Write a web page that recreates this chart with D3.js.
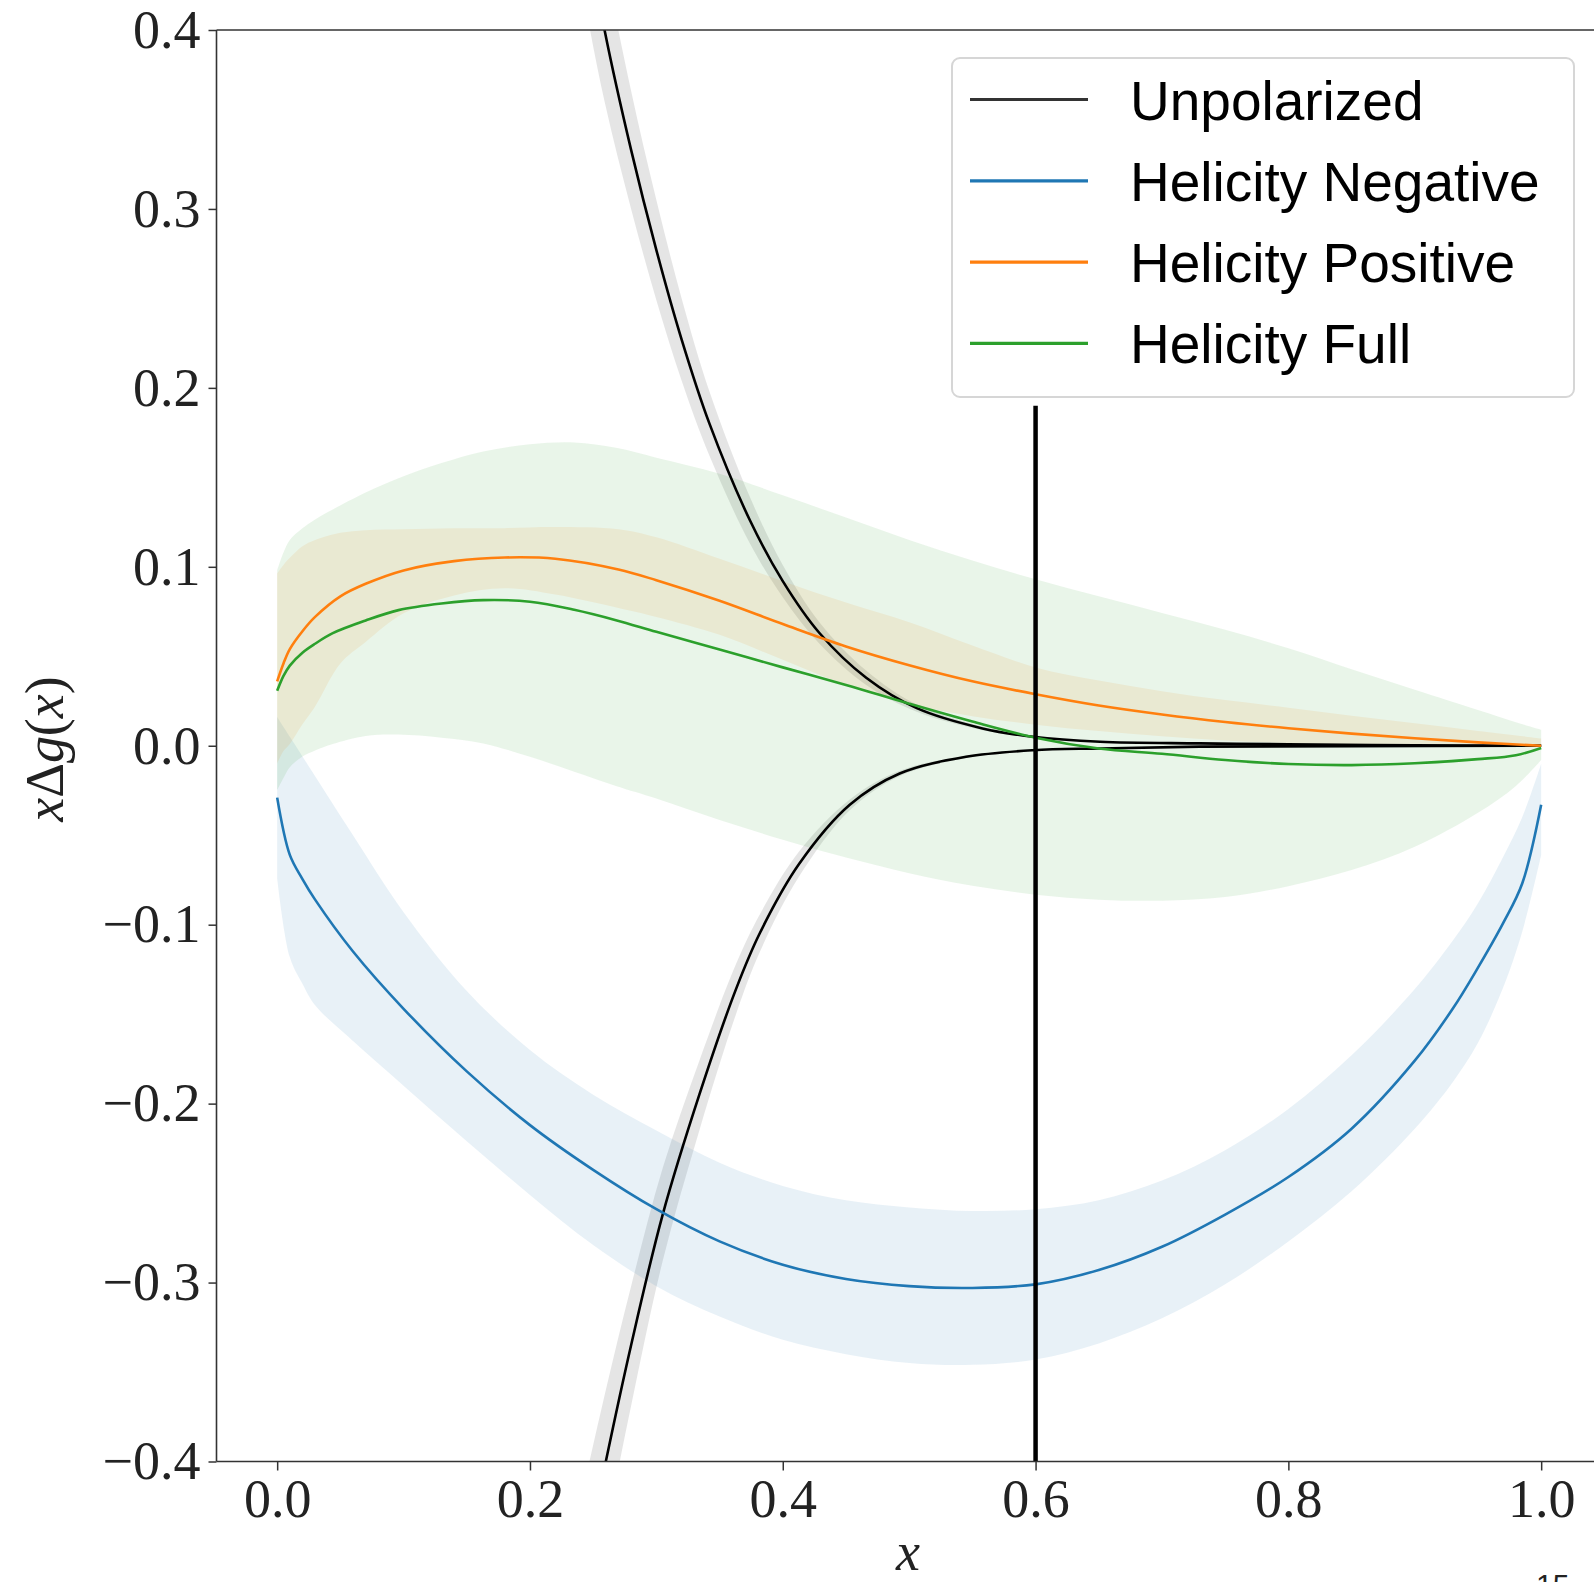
<!DOCTYPE html>
<html>
<head>
<meta charset="utf-8">
<script src="https://cdn.jsdelivr.net/npm/d3@7"></script>
<style>
  body { margin: 0; background: #fff; }
  svg { display: block; }
</style>
</head>
<body>
<svg id="chart" width="1594" height="1582"></svg>
<script>
// ---- data ----
const xTicks = [0.0, 0.2, 0.4, 0.6, 0.8, 1.0];
const yTicks = [-0.4, -0.3, -0.2, -0.1, 0.0, 0.1, 0.2, 0.3, 0.4];
const legendLabels = ['Unpolarized', 'Helicity Negative', 'Helicity Positive', 'Helicity Full'];
const seriesColors = ['#000000', '#1f77b4', '#ff7f0e', '#2ca02c'];

// Unpolarized, upper branch
const unpolUpX = [0.2, 0.22, 0.24, 0.259, 0.28, 0.3, 0.32, 0.342, 0.374, 0.4, 0.429, 0.466, 0.506, 0.558, 0.598, 0.651, 0.73, 0.8, 0.9, 1.0];
const unpolUpY = [0.66, 0.56, 0.475, 0.4, 0.333, 0.277, 0.227, 0.180, 0.126, 0.092, 0.063, 0.038, 0.021, 0.0097, 0.005, 0.0022, 0.0013, 0.0008, 0.0003, 0.0];
const unpolUpHi = [0.726, 0.616, 0.523, 0.44, 0.366, 0.305, 0.25, 0.198, 0.139, 0.101, 0.069, 0.042, 0.023, 0.0107, 0.0055, 0.0024, 0.0014, 0.0009, 0.0003, 0.0];
const unpolUpLo = [0.594, 0.504, 0.428, 0.36, 0.3, 0.249, 0.204, 0.162, 0.113, 0.083, 0.057, 0.034, 0.019, 0.0087, 0.0045, 0.002, 0.0012, 0.0007, 0.0003, 0.0];

// Unpolarized, lower branch
const unpolDnX = [0.2, 0.22, 0.24, 0.26, 0.28, 0.305, 0.334, 0.363, 0.382, 0.413, 0.453, 0.4925, 0.545, 0.598, 0.651, 0.73, 0.85, 1.0];
const unpolDnY = [-0.64, -0.55, -0.47, -0.40, -0.335, -0.262, -0.195, -0.136, -0.1045, -0.066, -0.033, -0.0155, -0.0062, -0.0025, -0.0015, -0.0005, -0.0002, 0.0];
const unpolDnHi = [-0.576, -0.495, -0.423, -0.36, -0.302, -0.236, -0.176, -0.122, -0.094, -0.059, -0.030, -0.014, -0.0056, -0.0023, -0.0014, -0.0005, -0.0002, 0.0];
const unpolDnLo = [-0.704, -0.605, -0.517, -0.44, -0.369, -0.288, -0.215, -0.150, -0.115, -0.073, -0.036, -0.017, -0.0068, -0.0028, -0.0017, -0.0006, -0.0002, 0.0];

// Helicity Negative
const negX = [0, 0.01, 0.02, 0.03, 0.06, 0.1, 0.15, 0.2, 0.25, 0.3, 0.35, 0.4, 0.45, 0.5, 0.55, 0.6, 0.65, 0.7, 0.75, 0.8, 0.85, 0.9, 0.93, 0.95, 0.97, 0.985, 1.0];
const negY = [-0.029, -0.061, -0.0745, -0.086, -0.115, -0.147, -0.182, -0.212, -0.237, -0.259, -0.277, -0.290, -0.298, -0.302, -0.303, -0.301, -0.293, -0.280, -0.262, -0.241, -0.214, -0.176, -0.147, -0.124, -0.099, -0.077, -0.033];
const negHi = [0.016, 0.005, -0.006, -0.017, -0.050, -0.093, -0.137, -0.170, -0.195, -0.215, -0.233, -0.246, -0.254, -0.258, -0.260, -0.259, -0.254, -0.243, -0.226, -0.203, -0.173, -0.136, -0.109, -0.088, -0.062, -0.040, -0.010];
const negLo = [-0.074, -0.118, -0.133, -0.145, -0.165, -0.190, -0.221, -0.251, -0.279, -0.302, -0.319, -0.332, -0.340, -0.345, -0.346, -0.343, -0.334, -0.320, -0.301, -0.277, -0.249, -0.214, -0.188, -0.166, -0.135, -0.104, -0.061];

// Helicity Positive
const posX = [0, 0.005, 0.01, 0.02, 0.03, 0.05, 0.07, 0.1, 0.14, 0.18, 0.22, 0.27, 0.3, 0.35, 0.4, 0.45, 0.5, 0.55, 0.6, 0.65, 0.7, 0.75, 0.8, 0.85, 0.9, 0.95, 1.0];
const posY = [0.036, 0.046, 0.054, 0.064, 0.072, 0.0835, 0.0905, 0.098, 0.1032, 0.1052, 0.1045, 0.0985, 0.0925, 0.081, 0.068, 0.0555, 0.045, 0.036, 0.0288, 0.0225, 0.0175, 0.0133, 0.0098, 0.0068, 0.0042, 0.0019, 0.0];
const posHi = [0.0963, 0.101, 0.105, 0.1115, 0.115, 0.119, 0.1205, 0.121, 0.1215, 0.1216, 0.1222, 0.121, 0.1165, 0.1045, 0.092, 0.080, 0.069, 0.056, 0.0438, 0.0365, 0.0305, 0.0255, 0.0213, 0.0168, 0.0126, 0.0083, 0.0041];
const posLo = [-0.010, -0.003, 0.001, 0.012, 0.022, 0.046, 0.058, 0.074, 0.084, 0.088, 0.0845, 0.077, 0.072, 0.062, 0.048, 0.034, 0.0235, 0.0165, 0.0118, 0.0082, 0.0053, 0.003, 0.0015, 0.0006, 0.0002, 0.0, 0.0];

// Helicity Full
const fullX = [0, 0.005, 0.01, 0.02, 0.03, 0.044, 0.07, 0.096, 0.13, 0.163, 0.2, 0.235, 0.268, 0.3, 0.35, 0.4, 0.45, 0.5, 0.55, 0.6, 0.65, 0.7, 0.75, 0.8, 0.85, 0.9, 0.95, 0.98, 1.0];
const fullY = [0.0307, 0.039, 0.0448, 0.052, 0.057, 0.0629, 0.070, 0.0758, 0.0795, 0.0814, 0.0805, 0.076, 0.0702, 0.0637, 0.0538, 0.0438, 0.034, 0.0235, 0.0135, 0.0045, -0.0015, -0.0045, -0.0080, -0.0102, -0.0108, -0.0098, -0.0075, -0.0053, -0.0012];
const fullHi = [0.098, 0.108, 0.115, 0.1215, 0.1265, 0.132, 0.1415, 0.1495, 0.158, 0.1645, 0.1685, 0.1695, 0.1665, 0.161, 0.152, 0.140, 0.1275, 0.115, 0.1035, 0.093, 0.0835, 0.0742, 0.0648, 0.0545, 0.0428, 0.0313, 0.0200, 0.0131, 0.0089];
const fullLo = [-0.0247, -0.018, -0.012, -0.006, -0.0026, 0.001, 0.0055, 0.0063, 0.0045, 0.0013, -0.0062, -0.0145, -0.0225, -0.0295, -0.0415, -0.0525, -0.0625, -0.0712, -0.0783, -0.0832, -0.0860, -0.0866, -0.0845, -0.0785, -0.0695, -0.0565, -0.0375, -0.0225, -0.008];

// vertical marker
const markerX = 0.6;
const markerY = [-0.4, 0.19];

(() => {
  let svg;
  let x;
  let y;
  let plot;
  let rows;
  let line;
  let area;
  let xAxis;
  let yAxis;
  let legend;
  let fmt;
  let serif;
  let sans;

  serif = '"Liberation Serif", "DejaVu Serif", serif';
  sans = '"Liberation Sans", Arial, sans-serif';
  svg = d3.select('#chart');

  // plot box: x(0)=277, x(1)=1541, left spine at 216.5, right edge falls off the page
  x = d3.scaleLinear().domain([-0.048, 1.05]).range([216.5, 216.5 + 1.098 * 1264]);
  y = d3.scaleLinear().domain([-0.4, 0.4]).range([1461.5, 30]);

  svg.append('defs').append('clipPath').attr('id', 'clip')
    .append('rect')
    .attr('x', x.range()[0]).attr('y', y.range()[1])
    .attr('width', x.range()[1] - x.range()[0])
    .attr('height', y.range()[0] - y.range()[1]);

  rows = (xs, ys, lo, hi) => xs.map((d, i) => ({ x: d, y: ys[i], lo: lo[i], hi: hi[i] }));

  line = d3.line().x(d => x(d.x)).y(d => y(d.y)).curve(d3.curveCatmullRom.alpha(0.5));
  area = d3.area().x(d => x(d.x)).y0(d => y(d.lo)).y1(d => y(d.hi)).curve(d3.curveCatmullRom.alpha(0.5));

  plot = svg.append('g').attr('clip-path', 'url(#clip)');

  let series = [
    { data: rows(unpolUpX, unpolUpY, unpolUpLo, unpolUpHi), color: seriesColors[0] },
    { data: rows(unpolDnX, unpolDnY, unpolDnLo, unpolDnHi), color: seriesColors[0] },
    { data: rows(negX, negY, negLo, negHi), color: seriesColors[1] },
    { data: rows(posX, posY, posLo, posHi), color: seriesColors[2] },
    { data: rows(fullX, fullY, fullLo, fullHi), color: seriesColors[3] }
  ];

  plot.selectAll('path.band')
    .data(series)
    .enter()
    .append('path')
    .attr('class', 'band')
    .attr('d', d => area(d.data))
    .attr('fill', d => d.color)
    .attr('fill-opacity', 0.1)
    .attr('stroke', 'none');

  plot.selectAll('path.curve')
    .data(series)
    .enter()
    .append('path')
    .attr('class', 'curve')
    .attr('d', d => line(d.data))
    .attr('fill', 'none')
    .attr('stroke', d => d.color)
    .attr('stroke-width', 2.6)
    .attr('stroke-linejoin', 'round');

  // vertical marker line
  svg.append('line')
    .attr('x1', x(markerX)).attr('x2', x(markerX))
    .attr('y1', y(markerY[0])).attr('y2', y(markerY[1]))
    .attr('stroke', '#000')
    .attr('stroke-width', 4.5);

  // spines
  let spines = svg.append('g').attr('stroke', '#333').attr('stroke-width', 1.6).attr('fill', 'none');
  spines.append('line').attr('x1', x.range()[0]).attr('x2', x.range()[0]).attr('y1', y.range()[1]).attr('y2', y.range()[0]);
  spines.append('line').attr('x1', x.range()[0]).attr('x2', x.range()[1]).attr('y1', y.range()[1]).attr('y2', y.range()[1]);
  spines.append('line').attr('x1', x.range()[0]).attr('x2', x.range()[1]).attr('y1', y.range()[0]).attr('y2', y.range()[0]);

  fmt = d => (d < 0 ? '\u2212' : '') + d3.format('.1f')(Math.abs(d));

  xAxis = svg.append('g')
    .attr('transform', `translate(0,${y.range()[0]})`)
    .call(d3.axisBottom(x).tickValues(xTicks).tickFormat(fmt).tickSize(9).tickPadding(8));
  yAxis = svg.append('g')
    .attr('transform', `translate(${x.range()[0]},0)`)
    .call(d3.axisLeft(y).tickValues(yTicks).tickFormat(fmt).tickSize(8).tickPadding(8));

  [xAxis, yAxis].forEach(g => {
    g.select('.domain').remove();
    g.selectAll('.tick line').attr('stroke', '#333').attr('stroke-width', 1.5);
    g.selectAll('.tick text')
      .attr('fill', '#222')
      .style('font-family', serif)
      .style('font-size', '54px');
  });

  // axis titles
  let ylab = svg.append('text')
    .attr('transform', 'translate(63,749) rotate(-90)')
    .attr('text-anchor', 'middle')
    .attr('fill', '#222')
    .style('font-family', serif)
    .style('font-size', '54px');
  [['x', true], ['\u0394', false], ['g', true], ['(', false], ['x', true], [')', false]].forEach(p => {
    ylab.append('tspan').text(p[0]).style('font-style', p[1] ? 'italic' : 'normal');
  });

  svg.append('text')
    .attr('x', 908).attr('y', 1570)
    .attr('text-anchor', 'middle')
    .attr('fill', '#222')
    .style('font-family', serif)
    .style('font-size', '54px')
    .style('font-style', 'italic')
    .text('x');

  // legend
  legend = svg.append('g');
  legend.append('rect')
    .attr('x', 952).attr('y', 58)
    .attr('width', 622).attr('height', 339)
    .attr('rx', 8).attr('ry', 8)
    .attr('fill', '#fff').attr('fill-opacity', 0.8)
    .attr('stroke', '#d6d6d6').attr('stroke-width', 2);

  let items = legend.selectAll('g.item')
    .data(legendLabels)
    .enter()
    .append('g')
    .attr('class', 'item')
    .attr('transform', (d, i) => `translate(0,${99.5 + i * 81.3})`);
  items.append('line')
    .attr('x1', 970).attr('x2', 1088)
    .attr('stroke', (d, i) => seriesColors[i] === '#000000' ? '#333' : seriesColors[i])
    .attr('stroke-width', 3.2);
  items.append('text')
    .attr('x', 1130).attr('y', 20)
    .attr('fill', '#000')
    .style('font-family', sans)
    .style('font-size', '55px')
    .text(d => d);

  // slide page number, cut by the bottom edge as in the source
  svg.append('text')
    .attr('x', 1536).attr('y', 1595)
    .attr('fill', '#222')
    .style('font-family', sans)
    .style('font-size', '30px')
    .text('15');
})();
</script>
</body>
</html>
